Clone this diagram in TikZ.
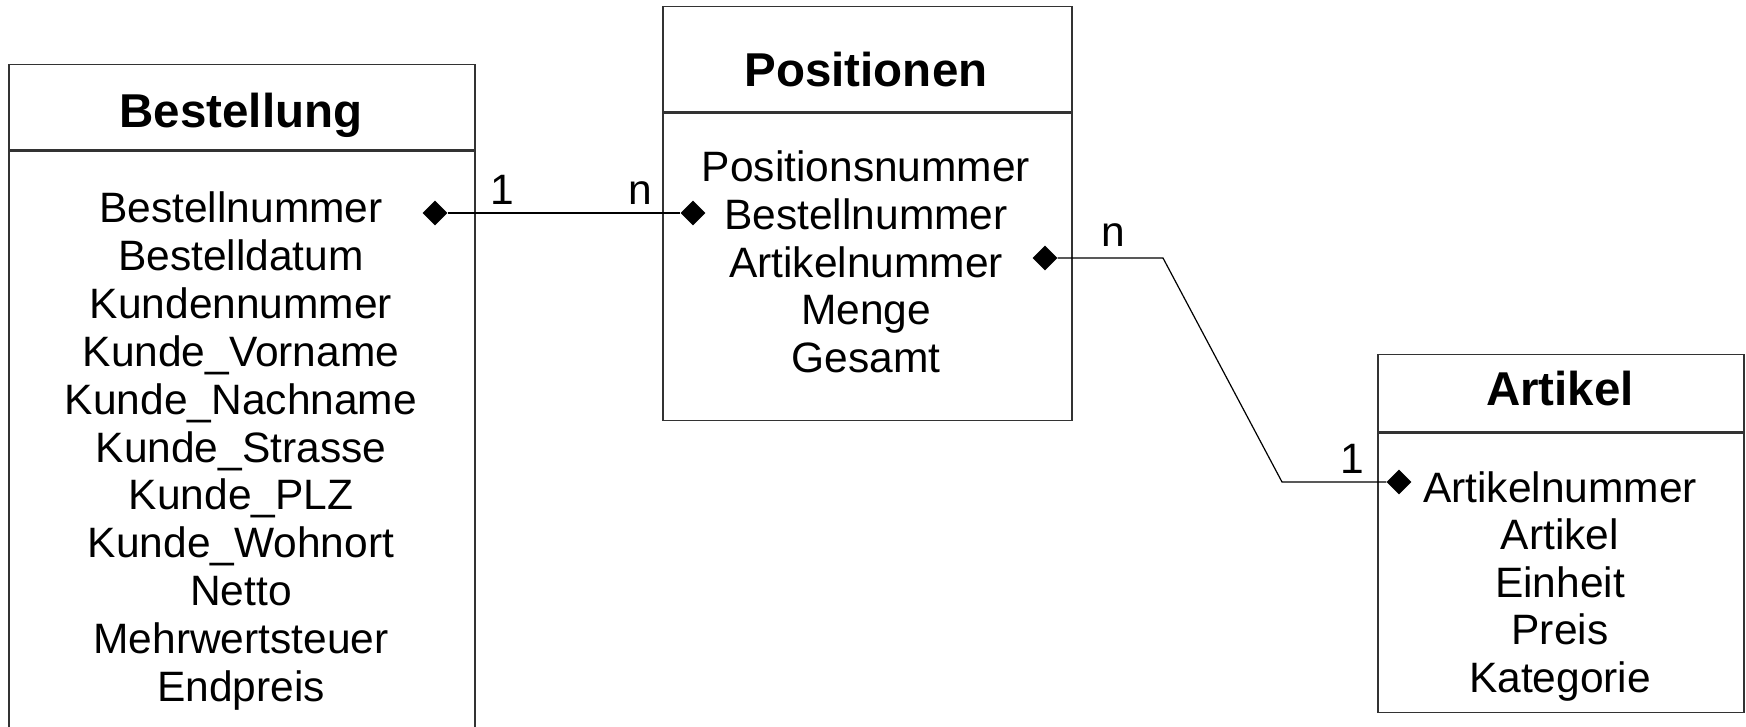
\documentclass[tikz,border=0pt]{standalone}
\usepackage{fontspec}
\setmainfont{Liberation Sans}
\usetikzlibrary{shapes.geometric,positioning}
\tikzset{
    entity/.style={
        rectangle,
        draw=black!80,
        line width=1.5pt,
        inner sep=0pt,
        anchor=north west
    },
    title/.style={
        font=\fontsize{47.5}{54}\selectfont\bfseries,
        anchor=base
    },
    attr/.style={
        font=\fontsize{42.5}{48}\selectfont,
        anchor=base
    },
    key/.style={
        diamond,
        fill=black,
        minimum size=25pt,
        inner sep=0pt
    },
    link/.style={
        line width=1.2pt
    }
}

\begin{document}
\begin{tikzpicture}[x=1pt,y=-1pt]
\useasboundingbox (0,0) rectangle (1746,727);
\clip (0,0) rectangle (1746,727);
% Bestellung
\node[entity, minimum width=466pt, minimum height=85pt] (bestHead) at (8,64) {};
\node[entity, minimum width=466pt, minimum height=640pt] (bestBody) at (bestHead.south west) {};
\node[title] (bestTitle) at (241,128) {Bestellung};
\foreach \a [count=\i from 0] in {Bestellnummer, Bestelldatum, Kundennummer, Kunde\_Vorname, Kunde\_Nachname, Kunde\_Strasse, Kunde\_PLZ, Kunde\_Wohnort, Netto, Mehrwertsteuer, Endpreis}
  \node[attr] (best\i) at ({241},{223+47.8*\i}) {\a};
% Positionen
\node[entity, minimum width=409pt, minimum height=105pt] (posHead) at (662,6) {};
\node[entity, minimum width=409pt, minimum height=307pt] (posBody) at (posHead.south west) {};
\node[title] (posTitle) at (866,87) {Positionen};
\foreach \a [count=\i from 0] in {Positionsnummer, Bestellnummer, Artikelnummer, Menge, Gesamt}
  \node[attr] (pos\i) at ({866},{182+47.6*\i}) {\a};
% Artikel
\node[entity, minimum width=366pt, minimum height=77pt] (artHead) at (1377,354) {};
\node[entity, minimum width=366pt, minimum height=279pt] (artBody) at (artHead.south west) {};
\node[title] (artTitle) at (1560,405) {Artikel};
\foreach \a [count=\i from 0] in {Artikelnummer, Artikel, Einheit, Preis, Kategorie}
  \node[attr] (art\i) at ({1560},{502+47.5*\i}) {\a};
% keys
\node[key] (d1) at (435,213) {};
\node[key] (d2) at (693,213) {};
\node[key] (d3) at (1045,258) {};
\node[key] (d4) at (1399,482) {};
\coordinate (k1) at (1163,258);
\coordinate (k2) at (1282,482);
\draw[link] (d1) -- (d2);
\draw[link] (d3) -- (k1) -- (k2) -- (d4);
\node[attr] (c1) at (502,205) {1};
\node[attr] (c2) at (640,205) {n};
\node[attr] (c3) at (1113,247) {n};
\node[attr] (c4) at (1352,473) {1};
\end{tikzpicture}
\end{document}
